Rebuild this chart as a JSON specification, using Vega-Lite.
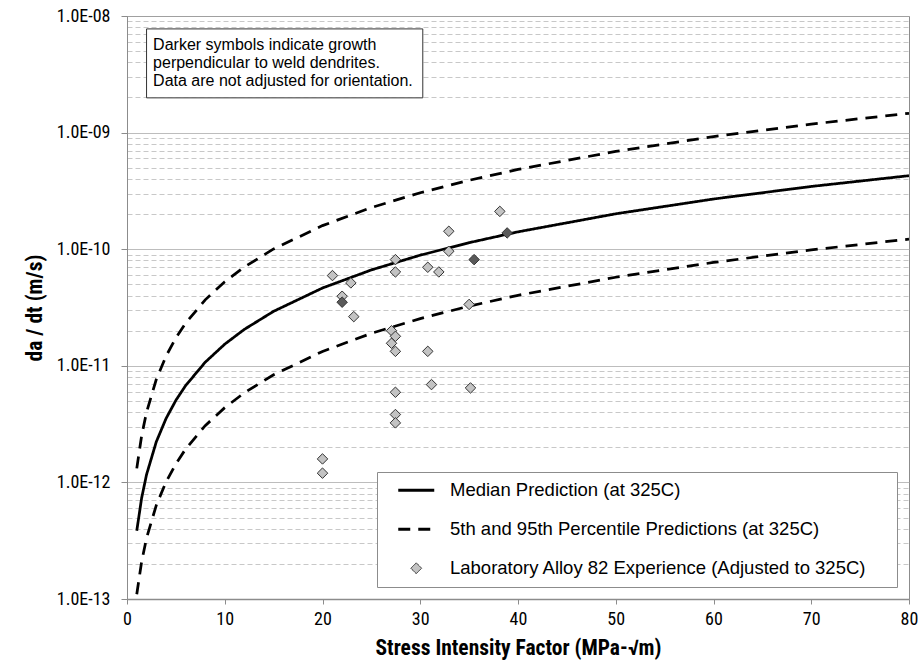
{
  "$schema": "https://vega.github.io/schema/vega-lite/v6.json",
  "width": 782,
  "height": 583,
  "autosize": "none",
  "padding": {"left": 127, "top": 16, "right": 11, "bottom": 66},
  "background": "white",
  "config": {"view": {"stroke": "#8c8c8c", "strokeWidth": 1}, "font": "Liberation Sans"},
  "datasets": {
    "curves": [
      {"curve": "median", "series": "Median Prediction (at 325C)", "K": 1, "rate": 3.85e-13},
      {"curve": "median", "series": "Median Prediction (at 325C)", "K": 1.5, "rate": 7.37e-13},
      {"curve": "median", "series": "Median Prediction (at 325C)", "K": 2, "rate": 1.167e-12},
      {"curve": "median", "series": "Median Prediction (at 325C)", "K": 3, "rate": 2.233e-12},
      {"curve": "median", "series": "Median Prediction (at 325C)", "K": 4, "rate": 3.538e-12},
      {"curve": "median", "series": "Median Prediction (at 325C)", "K": 5, "rate": 5.055e-12},
      {"curve": "median", "series": "Median Prediction (at 325C)", "K": 6, "rate": 6.768e-12},
      {"curve": "median", "series": "Median Prediction (at 325C)", "K": 8, "rate": 1.073e-11},
      {"curve": "median", "series": "Median Prediction (at 325C)", "K": 10, "rate": 1.533e-11},
      {"curve": "median", "series": "Median Prediction (at 325C)", "K": 12, "rate": 2.052e-11},
      {"curve": "median", "series": "Median Prediction (at 325C)", "K": 15, "rate": 2.933e-11},
      {"curve": "median", "series": "Median Prediction (at 325C)", "K": 20, "rate": 4.647e-11},
      {"curve": "median", "series": "Median Prediction (at 325C)", "K": 25, "rate": 6.641e-11},
      {"curve": "median", "series": "Median Prediction (at 325C)", "K": 30, "rate": 8.89e-11},
      {"curve": "median", "series": "Median Prediction (at 325C)", "K": 35, "rate": 1.137e-10},
      {"curve": "median", "series": "Median Prediction (at 325C)", "K": 40, "rate": 1.409e-10},
      {"curve": "median", "series": "Median Prediction (at 325C)", "K": 50, "rate": 2.012e-10},
      {"curve": "median", "series": "Median Prediction (at 325C)", "K": 60, "rate": 2.694e-10},
      {"curve": "median", "series": "Median Prediction (at 325C)", "K": 70, "rate": 3.452e-10},
      {"curve": "median", "series": "Median Prediction (at 325C)", "K": 80, "rate": 4.27e-10},
      {"curve": "p95", "series": "5th and 95th Percentile Predictions (at 325C)", "K": 1, "rate": 1.32e-12},
      {"curve": "p95", "series": "5th and 95th Percentile Predictions (at 325C)", "K": 1.5, "rate": 2.525e-12},
      {"curve": "p95", "series": "5th and 95th Percentile Predictions (at 325C)", "K": 2, "rate": 4.001e-12},
      {"curve": "p95", "series": "5th and 95th Percentile Predictions (at 325C)", "K": 3, "rate": 7.656e-12},
      {"curve": "p95", "series": "5th and 95th Percentile Predictions (at 325C)", "K": 4, "rate": 1.213e-11},
      {"curve": "p95", "series": "5th and 95th Percentile Predictions (at 325C)", "K": 5, "rate": 1.733e-11},
      {"curve": "p95", "series": "5th and 95th Percentile Predictions (at 325C)", "K": 6, "rate": 2.321e-11},
      {"curve": "p95", "series": "5th and 95th Percentile Predictions (at 325C)", "K": 8, "rate": 3.678e-11},
      {"curve": "p95", "series": "5th and 95th Percentile Predictions (at 325C)", "K": 10, "rate": 5.255e-11},
      {"curve": "p95", "series": "5th and 95th Percentile Predictions (at 325C)", "K": 12, "rate": 7.034e-11},
      {"curve": "p95", "series": "5th and 95th Percentile Predictions (at 325C)", "K": 15, "rate": 1.005e-10},
      {"curve": "p95", "series": "5th and 95th Percentile Predictions (at 325C)", "K": 20, "rate": 1.593e-10},
      {"curve": "p95", "series": "5th and 95th Percentile Predictions (at 325C)", "K": 25, "rate": 2.277e-10},
      {"curve": "p95", "series": "5th and 95th Percentile Predictions (at 325C)", "K": 30, "rate": 3.048e-10},
      {"curve": "p95", "series": "5th and 95th Percentile Predictions (at 325C)", "K": 35, "rate": 3.899e-10},
      {"curve": "p95", "series": "5th and 95th Percentile Predictions (at 325C)", "K": 40, "rate": 4.83e-10},
      {"curve": "p95", "series": "5th and 95th Percentile Predictions (at 325C)", "K": 50, "rate": 6.898e-10},
      {"curve": "p95", "series": "5th and 95th Percentile Predictions (at 325C)", "K": 60, "rate": 9.237e-10},
      {"curve": "p95", "series": "5th and 95th Percentile Predictions (at 325C)", "K": 70, "rate": 1.183e-9},
      {"curve": "p95", "series": "5th and 95th Percentile Predictions (at 325C)", "K": 80, "rate": 1.464e-9},
      {"curve": "p5", "series": "5th and 95th Percentile Predictions (at 325C)", "K": 1, "rate": 1.1e-13},
      {"curve": "p5", "series": "5th and 95th Percentile Predictions (at 325C)", "K": 1.5, "rate": 2.1e-13},
      {"curve": "p5", "series": "5th and 95th Percentile Predictions (at 325C)", "K": 2, "rate": 3.33e-13},
      {"curve": "p5", "series": "5th and 95th Percentile Predictions (at 325C)", "K": 3, "rate": 6.38e-13},
      {"curve": "p5", "series": "5th and 95th Percentile Predictions (at 325C)", "K": 4, "rate": 1.011e-12},
      {"curve": "p5", "series": "5th and 95th Percentile Predictions (at 325C)", "K": 5, "rate": 1.444e-12},
      {"curve": "p5", "series": "5th and 95th Percentile Predictions (at 325C)", "K": 6, "rate": 1.934e-12},
      {"curve": "p5", "series": "5th and 95th Percentile Predictions (at 325C)", "K": 8, "rate": 3.065e-12},
      {"curve": "p5", "series": "5th and 95th Percentile Predictions (at 325C)", "K": 10, "rate": 4.379e-12},
      {"curve": "p5", "series": "5th and 95th Percentile Predictions (at 325C)", "K": 12, "rate": 5.862e-12},
      {"curve": "p5", "series": "5th and 95th Percentile Predictions (at 325C)", "K": 15, "rate": 8.379e-12},
      {"curve": "p5", "series": "5th and 95th Percentile Predictions (at 325C)", "K": 20, "rate": 1.328e-11},
      {"curve": "p5", "series": "5th and 95th Percentile Predictions (at 325C)", "K": 25, "rate": 1.898e-11},
      {"curve": "p5", "series": "5th and 95th Percentile Predictions (at 325C)", "K": 30, "rate": 2.54e-11},
      {"curve": "p5", "series": "5th and 95th Percentile Predictions (at 325C)", "K": 35, "rate": 3.249e-11},
      {"curve": "p5", "series": "5th and 95th Percentile Predictions (at 325C)", "K": 40, "rate": 4.025e-11},
      {"curve": "p5", "series": "5th and 95th Percentile Predictions (at 325C)", "K": 50, "rate": 5.749e-11},
      {"curve": "p5", "series": "5th and 95th Percentile Predictions (at 325C)", "K": 60, "rate": 7.698e-11},
      {"curve": "p5", "series": "5th and 95th Percentile Predictions (at 325C)", "K": 70, "rate": 9.862e-11},
      {"curve": "p5", "series": "5th and 95th Percentile Predictions (at 325C)", "K": 80, "rate": 1.22e-10}
    ],
    "points": [
      {"K": 38.14, "rate": 2.11e-10, "orientation": "other"},
      {"K": 32.92, "rate": 1.425e-10, "orientation": "other"},
      {"K": 38.89, "rate": 1.379e-10, "orientation": "perpendicular"},
      {"K": 32.92, "rate": 9.6e-11, "orientation": "other"},
      {"K": 35.51, "rate": 8.14e-11, "orientation": "perpendicular"},
      {"K": 27.46, "rate": 8.14e-11, "orientation": "other"},
      {"K": 27.46, "rate": 6.38e-11, "orientation": "other"},
      {"K": 30.77, "rate": 7.0e-11, "orientation": "other"},
      {"K": 31.9, "rate": 6.38e-11, "orientation": "other"},
      {"K": 21.02, "rate": 5.94e-11, "orientation": "other"},
      {"K": 22.9, "rate": 5.14e-11, "orientation": "other"},
      {"K": 22.01, "rate": 3.95e-11, "orientation": "other"},
      {"K": 22.01, "rate": 3.51e-11, "orientation": "perpendicular"},
      {"K": 23.2, "rate": 2.64e-11, "orientation": "other"},
      {"K": 35.0, "rate": 3.36e-11, "orientation": "other"},
      {"K": 27.06, "rate": 2.0e-11, "orientation": "other"},
      {"K": 27.46, "rate": 1.79e-11, "orientation": "other"},
      {"K": 27.06, "rate": 1.56e-11, "orientation": "other"},
      {"K": 27.46, "rate": 1.33e-11, "orientation": "other"},
      {"K": 30.77, "rate": 1.33e-11, "orientation": "other"},
      {"K": 27.46, "rate": 5.93e-12, "orientation": "other"},
      {"K": 31.15, "rate": 6.9e-12, "orientation": "other"},
      {"K": 35.14, "rate": 6.46e-12, "orientation": "other"},
      {"K": 27.46, "rate": 3.82e-12, "orientation": "other"},
      {"K": 27.46, "rate": 3.24e-12, "orientation": "other"},
      {"K": 20.0, "rate": 1.59e-12, "orientation": "other"},
      {"K": 20.0, "rate": 1.2e-12, "orientation": "other"}
    ]
  },
  "layer": [
    {
      "data": {"name": "curves"},
      "mark": {"type": "line", "color": "black", "strokeWidth": 2.75, "clip": true},
      "encoding": {
        "x": {
          "field": "K", "type": "quantitative",
          "scale": {"domain": [0, 80], "nice": false, "zero": false},
          "axis": {
            "values": [0, 10, 20, 30, 40, 50, 60, 70, 80],
            "title": "Stress Intensity Factor (MPa-√m)",
            "titleFont": "Roboto Condensed, Liberation Sans", "titleFontSize": 21.5, "titleFontWeight": "bold", "titleColor": "black", "titlePadding": 9,
            "labelFont": "Roboto Condensed, Liberation Sans", "labelFontSize": 18, "labelColor": "black", "labelPadding": 6, "labelFlush": false,
            "tickSize": 5, "tickColor": "#8c8c8c", "domainColor": "#8c8c8c", "domainWidth": 1.5, "grid": false
          }
        },
        "y": {
          "field": "rate", "type": "quantitative",
          "scale": {"type": "log", "domain": [1e-13, 1e-8], "nice": false},
          "axis": {
            "values": [1e-13, 2e-13, 3e-13, 4e-13, 5e-13, 6e-13, 7e-13, 8e-13, 9e-13,
                       1e-12, 2e-12, 3e-12, 4e-12, 5e-12, 6e-12, 7e-12, 8e-12, 9e-12,
                       1e-11, 2e-11, 3e-11, 4e-11, 5e-11, 6e-11, 7e-11, 8e-11, 9e-11,
                       1e-10, 2e-10, 3e-10, 4e-10, 5e-10, 6e-10, 7e-10, 8e-10, 9e-10,
                       1e-9, 2e-9, 3e-9, 4e-9, 5e-9, 6e-9, 7e-9, 8e-9, 9e-9, 1e-8],
            "title": "da / dt (m/s)",
            "titleFont": "Roboto Condensed, Liberation Sans", "titleFontSize": 21.5, "titleFontWeight": "bold", "titleColor": "black", "titlePadding": 10,
            "labelFont": "Roboto Condensed, Liberation Sans", "labelFontSize": 18, "labelColor": "black", "labelPadding": 11,
            "labelOverlap": false, "labelFlush": false, "labelBound": false,
            "labelExpr": "(abs(log(datum.value)/LN10 - round(log(datum.value)/LN10)) < 0.001) ? ('1.0E-' + (round(-log(datum.value)/LN10) < 10 ? '0' : '') + round(-log(datum.value)/LN10)) : ''",
            "grid": true,
            "gridColor": {"condition": {"test": "abs(log(datum.value)/LN10 - round(log(datum.value)/LN10)) < 0.001", "value": "#a6a6a6"}, "value": "#c8c8c8"},
            "gridDash": {"condition": {"test": "abs(log(datum.value)/LN10 - round(log(datum.value)/LN10)) < 0.001", "value": [1, 0]}, "value": [5, 3]},
            "tickSize": {"condition": {"test": "abs(log(datum.value)/LN10 - round(log(datum.value)/LN10)) < 0.001", "value": 6}, "value": 0},
            "tickColor": "#8c8c8c", "domainColor": "#8c8c8c"
          }
        },
        "detail": {"field": "curve", "type": "nominal"},
        "strokeDash": {
          "field": "series", "type": "nominal",
          "scale": {
            "domain": ["Median Prediction (at 325C)", "5th and 95th Percentile Predictions (at 325C)", "Laboratory Alloy 82 Experience (Adjusted to 325C)"],
            "range": [[1, 0], [12, 8], [1, 0]]
          },
          "legend": {
            "title": "\u00a0", "titleOrient": "right", "titlePadding": 22, "titleFontSize": 18,
            "orient": "bottom-right", "offset": 12,
            "padding": 9, "rowPadding": 20,
            "fillColor": "white", "strokeColor": "#8c8c8c",
            "labelFont": "Liberation Sans", "labelFontSize": 18.5, "labelColor": "black", "labelLimit": 0,
            "symbolOffset": 21, "labelOffset": 24.5, "symbolSize": 1296, "symbolStrokeColor": "black", "symbolStrokeWidth": 3,
            "encode": {
              "symbols": {
                "update": {
                  "shape": {"signal": "datum.value === 'Laboratory Alloy 82 Experience (Adjusted to 325C)' ? 'M0,-0.3L0.3,0L0,0.3L-0.3,0Z' : 'M-1,0H1'"},
                  "fill": {"signal": "datum.value === 'Laboratory Alloy 82 Experience (Adjusted to 325C)' ? '#c3c3c3' : 'transparent'"},
                  "stroke": {"signal": "datum.value === 'Laboratory Alloy 82 Experience (Adjusted to 325C)' ? '#333333' : 'black'"},
                  "strokeWidth": {"signal": "datum.value === 'Laboratory Alloy 82 Experience (Adjusted to 325C)' ? 1 : 3"},
                  "opacity": {"value": 1}
                }
              }
            }
          }
        }
      }
    },
    {
      "data": {"name": "points"},
      "mark": {"type": "point", "shape": "diamond", "filled": true, "size": 110, "stroke": "#333333", "strokeWidth": 1, "opacity": 1},
      "encoding": {
        "x": {"field": "K", "type": "quantitative"},
        "y": {"field": "rate", "type": "quantitative"},
        "fill": {
          "field": "orientation", "type": "nominal",
          "scale": {"domain": ["other", "perpendicular"], "range": ["#c3c3c3", "#5a5a5a"]},
          "legend": null
        }
      }
    },
    {
      "data": {"values": [{}]},
      "mark": {"type": "rect", "fill": "white", "stroke": "#333333", "strokeWidth": 1},
      "encoding": {
        "x": {"datum": 2.0, "type": "quantitative"},
        "x2": {"datum": 30.26},
        "y": {"datum": 7.75e-9, "type": "quantitative"},
        "y2": {"datum": 1.986e-9}
      }
    },
    {
      "data": {"values": [{}]},
      "mark": {"type": "text", "align": "left", "baseline": "middle", "font": "Liberation Sans", "fontSize": 16, "lineHeight": 18, "color": "black"},
      "encoding": {
        "x": {"datum": 2.67, "type": "quantitative"},
        "y": {"datum": 5.69e-9, "type": "quantitative"},
        "text": {"value": ["Darker symbols indicate growth", "perpendicular to weld dendrites.", "Data are not adjusted for orientation."]}
      }
    }
  ]
}
